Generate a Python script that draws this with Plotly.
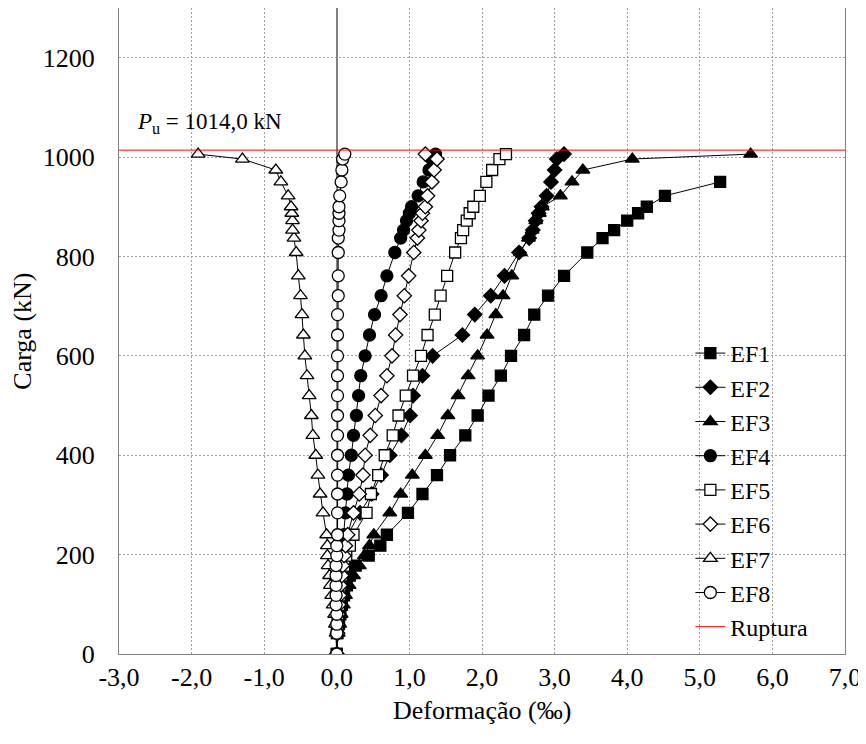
import plotly.graph_objects as go

# Load steps (kN)
loads = [0, 42, 60, 80, 99, 118, 138, 158, 178, 198, 218, 240, 284, 322, 360, 400,
         440, 480, 520, 560, 600, 642, 683, 721, 761, 808, 837, 853, 872, 887, 900,
         922, 950, 974, 996, 1006]
loads_ef1 = loads[:33]

# Strains (per mil)
ef1 = [0, 0.01, 0.03, 0.05, 0.07, 0.10, 0.14, 0.18, 0.26, 0.44, 0.60, 0.69, 0.98, 1.18,
       1.38, 1.56, 1.77, 1.94, 2.09, 2.26, 2.40, 2.58, 2.72, 2.91, 3.13, 3.45, 3.66,
       3.82, 4.00, 4.15, 4.27, 4.52, 5.28]
ef2 = [0, 0.01, 0.01, 0.02, 0.03, 0.04, 0.05, 0.06, 0.08, 0.10, 0.12, 0.15, 0.32, 0.48,
       0.61, 0.73, 0.89, 1.01, 1.05, 1.18, 1.32, 1.73, 1.90, 2.12, 2.31, 2.51, 2.65,
       2.70, 2.74, 2.78, 2.82, 2.89, 2.95, 3.00, 3.03, 3.13]
ef3 = [0, 0.02, 0.04, 0.06, 0.09, 0.12, 0.17, 0.23, 0.31, 0.38, 0.45, 0.51, 0.73, 0.88,
       1.04, 1.22, 1.39, 1.53, 1.67, 1.81, 1.94, 2.07, 2.19, 2.29, 2.41, 2.53, 2.64,
       2.69, 2.74, 2.79, 2.83, 3.08, 3.24, 3.39, 4.07, 5.70]
ef4 = [0, 0.01, 0.01, 0.02, 0.03, 0.03, 0.04, 0.05, 0.06, 0.07, 0.08, 0.10, 0.12, 0.14,
       0.16, 0.20, 0.23, 0.27, 0.30, 0.33, 0.39, 0.45, 0.52, 0.61, 0.69, 0.80, 0.88,
       0.92, 0.96, 1.00, 1.03, 1.12, 1.19, 1.27, 1.31, 1.36]
ef5 = [0, 0.0, 0.01, 0.02, 0.03, 0.04, 0.05, 0.07, 0.10, 0.13, 0.18, 0.23, 0.41, 0.47,
       0.57, 0.66, 0.77, 0.85, 0.95, 1.05, 1.16, 1.25, 1.35, 1.43, 1.52, 1.63, 1.71,
       1.74, 1.79, 1.83, 1.88, 1.97, 2.06, 2.14, 2.24, 2.33]
ef6 = [0, 0.01, 0.01, 0.02, 0.03, 0.04, 0.05, 0.07, 0.08, 0.10, 0.12, 0.15, 0.23, 0.31,
       0.36, 0.39, 0.46, 0.53, 0.61, 0.69, 0.76, 0.81, 0.87, 0.93, 0.99, 1.06, 1.11,
       1.13, 1.16, 1.18, 1.22, 1.25, 1.31, 1.34, 1.38, 1.22]
ef7 = [0, -0.01, -0.02, -0.03, -0.05, -0.07, -0.09, -0.10, -0.12, -0.13, -0.13, -0.14,
       -0.19, -0.23, -0.26, -0.29, -0.33, -0.35, -0.38, -0.41, -0.44, -0.46, -0.48,
       -0.50, -0.53, -0.56, -0.59, -0.61, -0.61, -0.62, -0.63, -0.67, -0.77, -0.84,
       -1.30, -1.91]
ef8 = [0, 0.0, 0.0, 0.0, -0.01, -0.01, -0.01, -0.01, -0.01, 0.0, 0.0, 0.01, 0.01, 0.01,
       0.01, 0.01, 0.01, 0.01, 0.01, 0.01, 0.01, 0.01, 0.01, 0.02, 0.02, 0.02, 0.02,
       0.03, 0.03, 0.03, 0.03, 0.04, 0.06, 0.07, 0.08, 0.11]

ruptura_load = 1014.0
x_ticks = [-3, -2, -1, 0, 1, 2, 3, 4, 5, 6, 7]
x_ticktext = ["-3,0", "-2,0", "-1,0", "0,0", "1,0", "2,0", "3,0", "4,0", "5,0", "6,0", "7,0"]
y_ticks = [0, 200, 400, 600, 800, 1000, 1200]

FONT = "'Liberation Serif', 'Times New Roman', Times, serif"

series = [
    ("EF1", ef1, loads_ef1, "square", "black", 11),
    ("EF2", ef2, loads, "diamond", "black", 11),
    ("EF3", ef3, loads, "triangle-up", "black", 12),
    ("EF4", ef4, loads, "circle", "black", 12),
    ("EF5", ef5, loads, "square", "white", 11),
    ("EF6", ef6, loads, "diamond", "white", 11),
    ("EF7", ef7, loads, "triangle-up", "white", 12),
    ("EF8", ef8, loads, "circle", "white", 12),
]

fig = go.Figure()
for name, xs, ys, sym, fill, size in series:
    fig.add_trace(go.Scatter(
        x=xs, y=ys, name=name, mode="lines+markers",
        line=dict(color="black", width=1),
        marker=dict(symbol=sym, size=size, color=fill,
                    line=dict(color="black", width=1.3)),
    ))

fig.add_trace(go.Scatter(
    x=[x_ticks[0], x_ticks[-1]], y=[ruptura_load, ruptura_load], name="Ruptura",
    mode="lines", line=dict(color="red", width=1),
))

fig.add_annotation(
    x=-2.78, y=ruptura_load, xref="x", yref="y", xanchor="left", yanchor="bottom",
    yshift=11, showarrow=False,
    text="<i>P</i><sub>u</sub> = " + f"{ruptura_load:.1f}".replace(".", ",") + " kN",
    font=dict(family=FONT, size=23, color="black"),
)

fig.add_annotation(
    x=0.5, y=-0.088, xref="paper", yref="paper", xanchor="center", yanchor="middle",
    showarrow=False, text="Deformação (‰)",
    font=dict(family=FONT, size=26, color="black"),
)
fig.add_annotation(
    x=-0.134, y=0.5, xref="paper", yref="paper", xanchor="center", yanchor="middle",
    showarrow=False, text="Carga (kN)", textangle=-90,
    font=dict(family=FONT, size=26, color="black"),
)

fig.update_layout(
    width=866, height=744,
    margin=dict(l=111, r=29, t=0, b=98),
    paper_bgcolor="white", plot_bgcolor="white",
    font=dict(family=FONT, size=26, color="black"),
    showlegend=True,
    legend=dict(x=0.787, y=0.50, xanchor="left", yanchor="top",
                bgcolor="rgba(0,0,0,0)", font=dict(family=FONT, size=24),
                itemsizing="trace", tracegroupgap=0),
    xaxis=dict(range=[-3, 7], tickvals=x_ticks, ticktext=x_ticktext,
               showgrid=True, gridcolor="#a0a0a0", griddash="2px,2px", gridwidth=1,
               zeroline=True, zerolinecolor="#808080", zerolinewidth=1.5,
               showline=True, linecolor="#808080", linewidth=1, mirror=True,
               ticks="", ticklabelstandoff=0, tickfont=dict(family=FONT, size=26)),
    yaxis=dict(range=[0, 1300], tickvals=y_ticks, ticktext=[str(v) for v in y_ticks],
               showgrid=True, gridcolor="#a0a0a0", griddash="2px,2px", gridwidth=1,
               zeroline=False,
               showline=True, linecolor="#808080", linewidth=1, mirror=True,
               ticks="", ticklabelstandoff=18, tickfont=dict(family=FONT, size=26)),
)

fig.write_html("out.html")
